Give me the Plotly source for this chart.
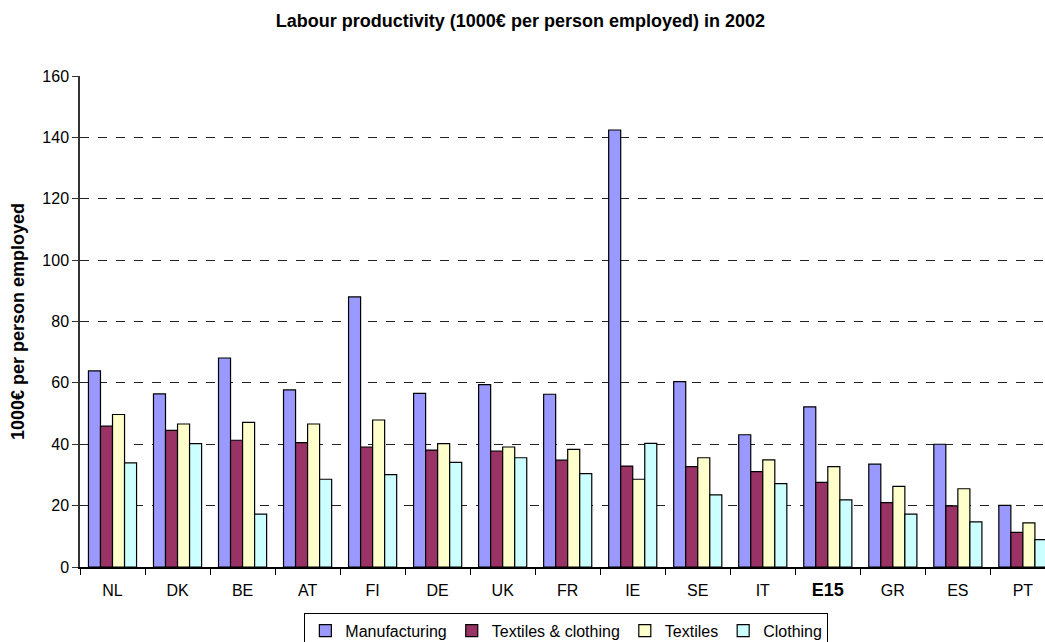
import plotly.graph_objects as go

countries = ["NL", "DK", "BE", "AT", "FI", "DE", "UK", "FR", "IE", "SE", "IT", "E15", "GR", "ES", "PT"]
manufacturing = [63.9, 56.4, 68.1, 57.7, 88.0, 56.6, 59.4, 56.3, 142.4, 60.4, 43.1, 52.2, 33.5, 40.0, 20.1]
textiles_clothing = [45.9, 44.5, 41.3, 40.5, 39.1, 38.1, 37.8, 34.8, 32.9, 32.7, 31.1, 27.6, 21.0, 19.9, 11.3]
textiles = [49.7, 46.6, 47.1, 46.6, 47.9, 40.2, 39.1, 38.3, 28.6, 35.6, 34.9, 32.7, 26.3, 25.5, 14.4]
clothing = [33.9, 40.2, 17.2, 28.6, 30.1, 34.1, 35.6, 30.4, 40.3, 23.5, 27.2, 21.9, 17.2, 14.7, 8.9]
y_ticks = [0, 20, 40, 60, 80, 100, 120, 140, 160]

series = [
    ("Manufacturing", manufacturing, "#9999FF"),
    ("Textiles & clothing", textiles_clothing, "#993366"),
    ("Textiles", textiles, "#FFFFCC"),
    ("Clothing", clothing, "#CCFFFF"),
]

fig = go.Figure()
for name, vals, col in series:
    fig.add_trace(go.Bar(
        x=countries, y=vals, name=name,
        marker=dict(color=col, line=dict(color="#000000", width=1.2)),
    ))

ticktext = [('<b><span style="font-size:18px">%s</span></b>' % c) if c == "E15" else c for c in countries]

font_family = "Liberation Sans, Arial, sans-serif"
fig.update_layout(
    width=1045, height=642,
    margin=dict(l=80, r=0, t=76, b=75, autoexpand=False),
    paper_bgcolor="white", plot_bgcolor="white",
    barmode="group", bargap=0.26, bargroupgap=0,
    font=dict(family=font_family, size=16, color="black"),
    title=dict(text="<b>Labour productivity (1000€ per person employed) in 2002</b>",
               x=0.498, xanchor="center", y=0.968, yanchor="middle",
               font=dict(size=18, family=font_family, color="black")),
    showlegend=True,
    legend=dict(orientation="h", x=0.504, xanchor="center", y=-0.093, yanchor="top",
                bordercolor="#000000", borderwidth=1, font=dict(size=16),
                itemwidth=30, tracegroupgap=0),
    xaxis=dict(
        type="category", range=[-0.5, 14.34],
        tickmode="array", tickvals=countries, ticktext=ticktext,
        showline=True, linecolor="black", linewidth=1.5,
        showgrid=False, tickfont=dict(size=16),
        ticks="outside", ticklen=6, tickcolor="black", tickson="boundaries",
        ticklabelstandoff=8,
    ),
    yaxis=dict(
        range=[0, 160], tickvals=y_ticks,
        showline=True, linecolor="#333333", linewidth=1.5,
        ticks="outside", ticklen=6, tickcolor="#333333",
        showgrid=True, gridcolor="#222222", griddash="dash", gridwidth=1,
        tickfont=dict(size=16),
        title=dict(text="<b>1000€ per person employed</b>", font=dict(size=18), standoff=13),
        zeroline=False,
    ),
)

fig.write_html("out.html")
